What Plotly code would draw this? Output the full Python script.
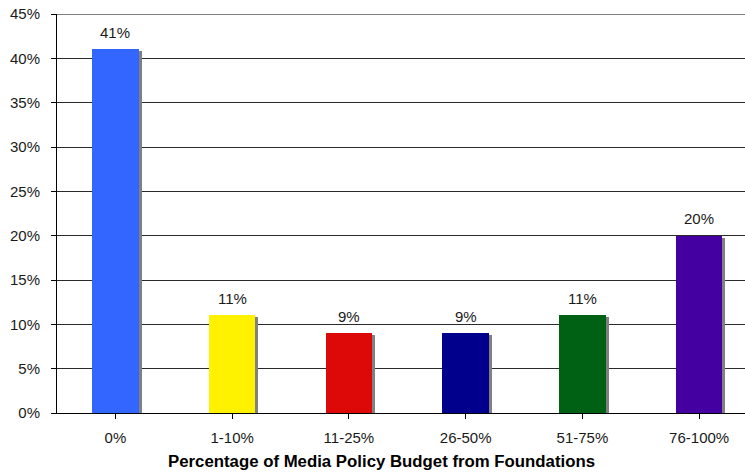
import plotly.graph_objects as go

categories = ["0%", "1-10%", "11-25%", "26-50%", "51-75%", "76-100%"]
values = [41, 11, 9, 9, 11, 20]
labels = ["41%", "11%", "9%", "9%", "11%", "20%"]
colors = ["#3366FF", "#FFF200", "#DD0808", "#00008C", "#006014", "#4400A0"]
y_ticks = [0, 5, 10, 15, 20, 25, 30, 35, 40, 45]
y_tick_text = [f"{t}%" for t in y_ticks]
x_title = "Percentage of Media Policy Budget from Foundations"

W, H = 745, 472
L, T, B = 57, 14, 59
cat_px = 116.75
full_right = L + cat_px * 6
x_hi = 5.5 - (full_right - W) / cat_px
bar_w = 0.40
plot_h = H - T - B
px_per_unit = plot_h / 45.0

font = "Liberation Sans, Arial, sans-serif"

fig = go.Figure()
# shadow
fig.add_trace(go.Bar(
    x=list(range(len(categories))), y=[v - 2 / px_per_unit for v in values],
    width=bar_w, offset=-bar_w / 2 + 3 / cat_px,
    marker=dict(color="#808080", line=dict(width=0)),
    hoverinfo="skip", showlegend=False,
))
fig.add_trace(go.Bar(
    x=list(range(len(categories))), y=values,
    width=bar_w, offset=-bar_w / 2,
    marker=dict(color=colors, line=dict(width=0)),
    showlegend=False,
))
for i, (v, lab) in enumerate(zip(values, labels)):
    fig.add_annotation(x=i, y=v, text=lab, showarrow=False, yanchor="middle",
                       yshift=17, font=dict(family=font, size=15, color="#1a1a1a"))

fig.add_annotation(xref="paper", yref="paper",
                   x=(381.5 - L) / (W - L), y=(H - B - 461) / plot_h,
                   text="<b>" + x_title + "</b>", showarrow=False,
                   xanchor="center", yanchor="middle",
                   font=dict(family=font, size=16.8, color="black"))

fig.update_layout(
    width=W, height=H, margin=dict(l=L, r=0, t=T, b=B, pad=0),
    paper_bgcolor="white", plot_bgcolor="white", barmode="overlay",
    bargap=0,
    font=dict(family=font, size=15, color="#1a1a1a"),
)
fig.update_xaxes(
    range=[-0.5, x_hi], tickmode="array", tickvals=list(range(len(categories))),
    ticktext=categories, ticks="outside", tickson="boundaries", ticklen=5,
    tickcolor="black", showline=True, linecolor="black", linewidth=1,
    showgrid=False, zeroline=False, ticklabelstandoff=6,
    tickfont=dict(family=font, size=15, color="#1a1a1a"),
)
fig.update_yaxes(
    range=[0, 45], tickmode="array", tickvals=y_ticks, ticktext=y_tick_text,
    ticks="outside", ticklen=5, tickcolor="black",
    showline=True, linecolor="black", linewidth=1,
    showgrid=True, gridcolor="#2a2a2a", gridwidth=1, zeroline=False,
    ticklabelstandoff=8,
    tickfont=dict(family=font, size=15, color="#1a1a1a"),
)
fig.add_shape(type="line", xref="paper", yref="y", x0=0, x1=1, y0=45, y1=45,
              line=dict(color="black", width=1))
fig.write_html("out.html")
